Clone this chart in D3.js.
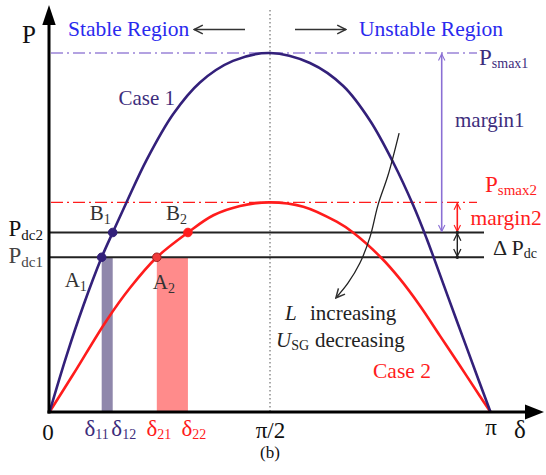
<!DOCTYPE html>
<html><head><meta charset="utf-8">
<script src="https://cdn.jsdelivr.net/npm/d3@7"></script>
<style>
body{margin:0;background:#fff}
svg{display:block}
svg text{font-family:"Liberation Serif","DejaVu Serif","Noto Serif",serif !important}
</style>
</head><body>
<svg id="c" width="546" height="475" font-family="Liberation Serif, DejaVu Serif, serif"></svg>
<script>
// ---- data (delta in degrees, P normalised to Psmax1) ----
const case1Delta = [0, 7, 13.8, 21.3, 25.8, 31.5, 39.7, 50.5, 61.4, 74.9, 90, 106.3, 119.9, 130.8, 140.3, 148.5, 154, 157.1, 162.7, 169, 175.1, 180];
const case1P     = [0, 0.158, 0.296, 0.431, 0.5, 0.585, 0.703, 0.83, 0.918, 0.978, 1, 0.972, 0.908, 0.812, 0.695, 0.575, 0.482, 0.425, 0.32, 0.203, 0.09, 0];
const case2Delta = [0, 9.7, 23.3, 32.9, 43.8, 56.5, 66.9, 77.8, 90, 103.6, 117.2, 123.9, 135.2, 143.1, 151.2, 159.4, 167.6, 175.7, 180];
const case2P     = [0, 0.105, 0.255, 0.346, 0.431, 0.5, 0.548, 0.574, 0.584, 0.572, 0.53, 0.5, 0.431, 0.37, 0.296, 0.212, 0.128, 0.044, 0];
const Pdc    = [0.431, 0.5];     // Pdc1, Pdc2
const Psmax  = [1, 0.584];       // Psmax1, Psmax2
const deltaA = [21.3, 43.8];     // A1, A2  (δ11, δ21)
const deltaB = [25.8, 56.5];     // B1, B2  (δ12, δ22)
const xTickValues = [0, 90, 180];
const xTickLabels = ["0", "π/2", "π"];
const trendDelta = [142.7, 138.2, 134.1, 130.8, 126.7, 121.8, 116.9];
const trendP     = [0.777, 0.660, 0.577, 0.487, 0.415, 0.359, 0.318];

// ---- colours ----
const C = {
  purple: "#33207a", purpleText: "#3d2d7c", purpleLight: "#9a84d8", purpleArrow: "#8a6fd4",
  purpleBand: "#8f87ab", red: "#ff1c1c", redBand: "#ff8b8b", blue: "#2a2aee", black: "#1a1a1a", grey: "#333"
};
const FONT = '"Liberation Serif","DejaVu Serif","Noto Serif",serif';

const svg = d3.select("#c");
const x = d3.scaleLinear().domain([0, 180]).range([49.5, 490.5]);
const y = d3.scaleLinear().domain([0, 1]).range([412, 53]);

// markers
const defs = svg.append("defs");
function chevron(id, color, w) {
  defs.append("marker").attr("id", id).attr("viewBox", "0 0 10 10")
    .attr("refX", 9).attr("refY", 5).attr("markerUnits", "userSpaceOnUse")
    .attr("markerWidth", w || 9).attr("markerHeight", w || 9).attr("orient", "auto-start-reverse")
    .append("path").attr("d", "M1,1 L9,5 L1,9").attr("fill", "none")
    .attr("stroke", color).attr("stroke-width", 1.4);
}
chevron("hPurple", C.purpleArrow, 8);
chevron("hRed", C.red, 8);
chevron("hBlack", "#222", 9);
chevron("hGrey", "#333", 11);

// bands
const bandColors = [C.purpleBand, C.redBand];
svg.append("g").selectAll("rect").data([0, 1]).join("rect")
  .attr("x", i => x(deltaA[i])).attr("width", i => x(deltaB[i]) - x(deltaA[i]))
  .attr("y", y(Pdc[0])).attr("height", y(0) - y(Pdc[0]))
  .attr("fill", i => bandColors[i]);

// dotted pi/2 line
svg.append("line").attr("x1", x(90)).attr("x2", x(90)).attr("y1", 10).attr("y2", y(0))
  .attr("stroke", "#555").attr("stroke-width", 1).attr("stroke-dasharray", "1.5,2.5");

// Psmax dash-dot lines
const psColors = [C.purpleLight, C.red];
svg.append("g").selectAll("line").data([0, 1]).join("line")
  .attr("x1", 51).attr("x2", 477).attr("y1", i => y(Psmax[i])).attr("y2", i => y(Psmax[i]))
  .attr("stroke", i => psColors[i]).attr("stroke-width", 1.4).attr("stroke-dasharray", "12,4,2,4");

// Pdc lines
svg.append("g").selectAll("line").data(Pdc).join("line")
  .attr("x1", 49).attr("x2", 484).attr("y1", d => y(d)).attr("y2", d => y(d))
  .attr("stroke", "#222").attr("stroke-width", 2);

// curves
const line = d3.line().x(d => x(d[0])).y(d => y(d[1])).curve(d3.curveCatmullRom.alpha(0.5));
svg.append("path").datum(d3.zip(case2Delta, case2P)).attr("d", line)
  .attr("fill", "none").attr("stroke", C.red).attr("stroke-width", 2.6);
svg.append("path").datum(d3.zip(case1Delta, case1P)).attr("d", line)
  .attr("fill", "none").attr("stroke", C.purple).attr("stroke-width", 2.6);

// trend arrow
svg.append("path").datum(d3.zip(trendDelta, trendP)).attr("d", line)
  .attr("fill", "none").attr("stroke", "#222").attr("stroke-width", 1.3)
  .attr("marker-end", "url(#hGrey)");

// points
const pts = [
  {d: deltaA[0], p: Pdc[0], fill: C.purple, stroke: C.purple},
  {d: deltaB[0], p: Pdc[1], fill: C.purple, stroke: C.purple},
  {d: deltaA[1], p: Pdc[0], fill: "#f03a3a", stroke: "#a02020"},
  {d: deltaB[1], p: Pdc[1], fill: C.red, stroke: C.red}
];
svg.append("g").selectAll("circle").data(pts).join("circle")
  .attr("cx", d => x(d.d)).attr("cy", d => y(d.p)).attr("r", 4.3)
  .attr("fill", d => d.fill).attr("stroke", d => d.stroke).attr("stroke-width", 1);

// axes (tick labels through d3 axes)
const xAxis = svg.append("g").attr("transform", `translate(0,${y(0)})`)
  .call(d3.axisBottom(x).tickValues(xTickValues).tickSize(0).tickFormat((d, i) => xTickLabels[i]));
xAxis.attr("font-family", null);
xAxis.select(".domain").remove();
xAxis.selectAll("text").attr("dy", null).attr("y", (d, i) => i === 0 ? 28 : (i === 2 ? 23 : 26))
  .attr("x", (d, i) => i === 0 ? -2 : 0)
  .attr("font-size", 23).attr("fill", "#111").style("font-family", FONT);

const yAxis = svg.append("g").attr("transform", `translate(49,0)`)
  .call(d3.axisLeft(y).tickValues(Pdc).tickSize(0).tickFormat(() => ""));
yAxis.attr("font-family", null);
yAxis.select(".domain").remove();
yAxis.selectAll(".tick text").each(function(d, i) {
  const t = d3.select(this).attr("dy", null).attr("x", -6).attr("y", i === 0 ? 5 : 3)
    .attr("text-anchor", "end").attr("fill", i === 0 ? "#444" : "#111")
    .style("font-family", FONT);
  t.append("tspan").attr("font-size", 23).text("P");
  t.append("tspan").attr("font-size", 15).attr("dy", 4).text(i === 0 ? "dc1" : "dc2");
});

// axis lines and arrowheads
svg.append("line").attr("x1", 49).attr("x2", 49).attr("y1", y(0) + 1.5).attr("y2", 22)
  .attr("stroke", "#000").attr("stroke-width", 3);
svg.append("path").attr("d", "M49,5 L42.3,25 L55.7,25 Z").attr("fill", "#000");
svg.append("line").attr("x1", 47.5).attr("x2", 528).attr("y1", y(0)).attr("y2", y(0))
  .attr("stroke", "#000").attr("stroke-width", 3);
svg.append("path").attr("d", `M544,${y(0)} L525,${y(0) - 7.5} L525,${y(0) + 7.5} Z`).attr("fill", "#000");

// helper for text with subscript
function label(xp, yp, main, sub, color, size, subSize, subDy, opts) {
  const t = svg.append("text").attr("x", xp).attr("y", yp).attr("fill", color).style("font-family", FONT);
  if (opts && opts.anchor) t.attr("text-anchor", opts.anchor);
  const m = t.append("tspan").attr("font-size", size).text(main);
  if (opts && opts.italic) m.attr("font-style", "italic");
  if (sub) t.append("tspan").attr("font-size", subSize).attr("dy", subDy).text(sub);
  return t;
}

// axis titles
label(22, 43, "P", null, "#111", 25);
label(520, 438, "δ", null, "#111", 25, 0, 0, {anchor: "middle"});
label(270, 458, "(b)", null, "#111", 17, 0, 0, {anchor: "middle"});

// delta labels
const dLab = [
  {v: deltaA[0], s: "11", c: C.purpleText, off: -5},
  {v: deltaB[0], s: "12", c: C.purpleText, off: 11},
  {v: deltaA[1], s: "21", c: C.red, off: 2},
  {v: deltaB[1], s: "22", c: C.red, off: 6}
];
dLab.forEach(d => label(x(d.v) + d.off, 436, "δ", d.s, d.c, 23, 14, 3, {anchor: "middle"}));

// point labels
label(x(deltaB[0]) - 23, y(Pdc[1]) - 12.5, "B", "1", C.grey, 21, 14, 4);
label(x(deltaB[1]) - 22, y(Pdc[1]) - 12.5, "B", "2", C.grey, 21, 14, 4);
label(x(deltaA[0]) - 37, y(Pdc[0]) + 30, "A", "1", C.grey, 21, 14, 4);
label(x(deltaA[1]) - 4, y(Pdc[0]) + 31.5, "A", "2", C.grey, 21, 14, 4);

// region texts and arrows
label(68, 36, "Stable Region", null, C.blue, 21.5);
label(359, 36, "Unstable Region", null, C.blue, 21.5);
svg.append("line").attr("x1", 245).attr("x2", 194).attr("y1", 29.5).attr("y2", 29.5)
  .attr("stroke", "#333").attr("stroke-width", 1.6).attr("marker-end", "url(#hGrey)");
svg.append("line").attr("x1", 295).attr("x2", 346).attr("y1", 29.5).attr("y2", 29.5)
  .attr("stroke", "#333").attr("stroke-width", 1.6).attr("marker-end", "url(#hGrey)");

// case labels
label(118.5, 105, "Case 1", null, C.purpleText, 21);
label(373, 378, "Case 2", null, C.red, 21.5);

// Psmax labels
label(479, y(Psmax[0]) + 12, "P", "smax1", C.purpleText, 23, 14, 3);
label(485, y(Psmax[1]) - 10.5, "P", "smax2", C.red, 23, 15, 3);

// margin arrows
svg.append("line").attr("x1", 441.7).attr("x2", 441.7).attr("y1", y(Psmax[0]) + 1).attr("y2", y(Pdc[1]) - 1)
  .attr("stroke", C.purpleArrow).attr("stroke-width", 1.6)
  .attr("marker-start", "url(#hPurple)").attr("marker-end", "url(#hPurple)");
svg.append("line").attr("x1", 457.3).attr("x2", 457.3).attr("y1", y(Psmax[1]) + 1).attr("y2", y(Pdc[1]) - 1)
  .attr("stroke", C.red).attr("stroke-width", 1.6)
  .attr("marker-start", "url(#hRed)").attr("marker-end", "url(#hRed)");
svg.append("line").attr("x1", 457.3).attr("x2", 457.3).attr("y1", y(Pdc[1]) + 1).attr("y2", y(Pdc[0]) - 1)
  .attr("stroke", "#222").attr("stroke-width", 1.4)
  .attr("marker-start", "url(#hBlack)").attr("marker-end", "url(#hBlack)");
svg.append("g").selectAll("circle").data(Pdc).join("circle")
  .attr("cx", 457.3).attr("cy", d => y(d)).attr("r", 1.8).attr("fill", "#222");

label(455, 127, "margin1", null, C.purpleText, 21);
label(470.5, 225, "margin2", null, C.red, 21.5);
label(493, 255, "Δ P", "dc", "#222", 22, 14, 3);

// trend text
const t1 = svg.append("text").attr("y", 320).attr("fill", "#222").attr("font-size", 21).style("font-family", FONT);
t1.append("tspan").attr("x", 285).attr("font-style", "italic").text("L");
t1.append("tspan").attr("x", 310).text("increasing");
const t2 = svg.append("text").attr("y", 346.5).attr("fill", "#222").attr("font-size", 21).style("font-family", FONT);
t2.append("tspan").attr("x", 276).attr("font-style", "italic").text("U");
t2.append("tspan").attr("font-size", 14).attr("dy", 3).text("SG");
t2.append("tspan").attr("x", 315).attr("dy", -3).text("decreasing");
</script>
</body></html>
